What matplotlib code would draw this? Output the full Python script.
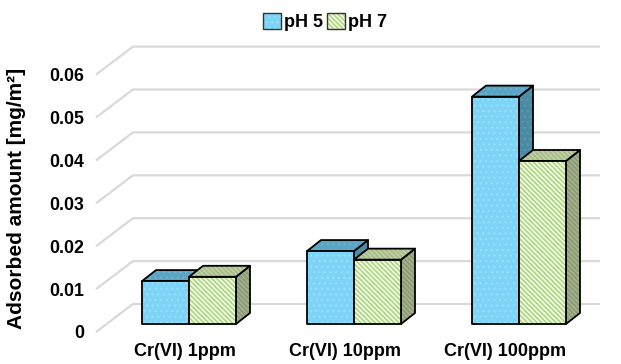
import matplotlib.pyplot as plt
from matplotlib.patches import Polygon, Patch

plt.rcParams["font.family"] = ["Liberation Sans", "DejaVu Sans"]
plt.rcParams["font.weight"] = "bold"
plt.rcParams["hatch.linewidth"] = 1.0

# Data
categories = ["Cr(VI) 1ppm", "Cr(VI) 10ppm", "Cr(VI) 100ppm"]
series = ["pH 5", "pH 7"]
ph5 = [0.010, 0.017, 0.053]
ph7 = [0.011, 0.015, 0.038]
yticks = [0, 0.01, 0.02, 0.03, 0.04, 0.05, 0.06]
ytick_labels = ["0", "0.01", "0.02", "0.03", "0.04", "0.05", "0.06"]

# face colours (front, top, side) and hatch for each series
styles = {
    "pH 5": dict(front="#7DD4F6", top="#5AA5C3", side="#4A8AA4",
                 hatch="...", hfront="#97DDF8", htop="#6DB0CB", hside="#5A96AE"),
    "pH 7": dict(front="#EEF7E2", top="#A9BD8B", side="#8D9C76",
                 hatch="\\\\\\\\\\\\\\", hfront="#A6D475", htop="#C2D3A6", hside="#A7B48F"),
}

W, H = 621, 364
fig = plt.figure(figsize=(W / 100, H / 100), dpi=100)
ax = fig.add_axes([0, 0, 1, 1])

# one category step = 165 px, 0.01 = 42.9 px
x0, y0 = 189, 324
sx, sy = 165, 4290
ax.set_xlim(-x0 / sx, (W - x0) / sx)
ax.set_ylim(-(H - y0) / sy, y0 / sy)
ax.axis("off")

bar_w = 47 / sx
dx, dy = 14 / sx, 11 / sy          # bar depth
front_dy = -8 / sy                  # front edge of the floor
back_dy = 20 / sy                   # back wall
wall_left = (96 - x0) / sx
wall_depth = 37 / sx
wall_right = (600 - x0) / sx

# side wall and back wall gridlines
for v, lab in zip(yticks, ytick_labels):
    ax.plot([wall_left, wall_left + wall_depth, wall_right],
            [v + front_dy, v + back_dy, v + back_dy],
            color="#D9D9D9", lw=1.6, zorder=1, solid_capstyle="butt")
    ax.text(wall_left - 12 / sx, v + front_dy - 2 / sy, lab,
            ha="right", va="center", fontsize=12.8)


def draw_bar(xl, val, st, z):
    front = [(xl, 0), (xl + bar_w, 0), (xl + bar_w, val), (xl, val)]
    top = [(xl, val), (xl + bar_w, val), (xl + bar_w + dx, val + dy), (xl + dx, val + dy)]
    side = [(xl + bar_w, 0), (xl + bar_w + dx, dy), (xl + bar_w + dx, val + dy), (xl + bar_w, val)]
    for pts, fc, hc in ((side, st["side"], st["hside"]),
                        (top, st["top"], st["htop"]),
                        (front, st["front"], st["hfront"])):
        ax.add_patch(Polygon(pts, closed=True, facecolor=fc, edgecolor="none", zorder=z))
        ax.add_patch(Polygon(pts, closed=True, fill=False, hatch=st["hatch"],
                             edgecolor=hc, lw=0, zorder=z))
        ax.add_patch(Polygon(pts, closed=True, fill=False, edgecolor="black",
                             lw=1.3, joinstyle="round", zorder=z))


z = 3
for i in range(len(categories)):
    draw_bar(i - bar_w, ph5[i], styles["pH 5"], z)
    draw_bar(i, ph7[i], styles["pH 7"], z + 1)
    z += 2

# category labels sit slightly left of the bar pairs (perspective floor)
for i, cat in enumerate(categories):
    ax.text(i * 160 / sx - 4 / sx, -28 / sy, cat, ha="center", va="center", fontsize=13)

fig.text(17 / W, 1 - 198 / H, "Adsorbed amount [mg/m²]", rotation=90,
         ha="center", va="center", fontsize=15)

# legend
handles = []
for s in series:
    st = styles[s]
    handles.append((Patch(facecolor=st["front"], edgecolor=st["hfront"], hatch=st["hatch"], lw=0),
                    Patch(fill=False, edgecolor="#333333", lw=1.0)))
fig.legend(handles, series, loc="center", bbox_to_anchor=(325 / W, 1 - 22 / H),
           ncol=2, frameon=False, fontsize=13, handlelength=1.0, handleheight=1.0,
           handletextpad=0.15, columnspacing=0.25, borderpad=0)

fig.savefig("out.png", dpi=100)
